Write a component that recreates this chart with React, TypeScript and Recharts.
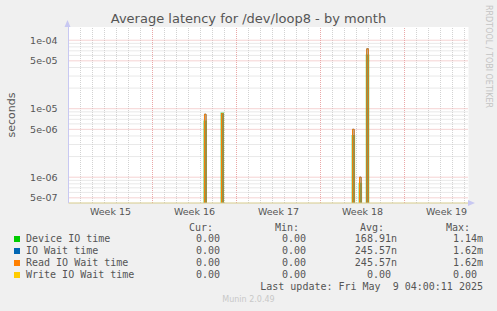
import { LineChart, Line, XAxis, YAxis, CartesianGrid, ReferenceLine } from "recharts";

// time axis is in days from the left edge of the month graph
const weekLabels = ["Week 15", "Week 16", "Week 17", "Week 18", "Week 19"];
const weekStarts = [0, 7, 14, 21, 28];
const days = Array.from({ length: 33 }, (_, i) => i + 1);

// spikes (start day of the sample) and their peak values in seconds
const spikeDays = [11.33, 12.75, 23.67, 24.25, 24.85];
const devicePeaks = [6.5e-6, 8.5e-6, 4.0e-6, 8.0e-7, 6.0e-5];
const ioWaitPeaks = [8.3e-6, 8.5e-6, 5.0e-6, 1.0e-6, 7.5e-5];
const readPeaks = [8.3e-6, 8.5e-6, 5.0e-6, 1.0e-6, 7.5e-5];
const writePeaks = [0, 0, 0, 0, 0];

const legendNames = ["Device IO time", "IO Wait time", "Read IO Wait time", "Write IO Wait time"];
const legendColors = ["#00cc00", "#0066b3", "#ff8000", "#ffcc00"];
const curValues = ["0.00", "0.00", "0.00", "0.00"];
const minValues = ["0.00", "0.00", "0.00", "0.00"];
const avgValues = ["168.91n", "245.57n", "245.57n", "0.00 "];
const maxValues = ["1.14m", "1.62m", "1.62m", "0.00 "];

const yTicks = [5e-7, 1e-6, 5e-6, 1e-5, 5e-5, 1e-4];
const Y_DOMAIN: [number, number] = [4.2e-7, 1.56e-4];
const X_DOMAIN: [number, number] = [0, 33.33];

// zero can't sit on a log axis, park it far below the visible range
const FLOOR = 1e-9;
const SAMPLE = 0.13;
const v = (x: number) => (x > 0 ? x : FLOOR);

const data = spikeDays.flatMap((d, i) => [
  { t: d, device: FLOOR, ioWait: FLOOR, read: FLOOR, write: FLOOR },
  { t: d, device: v(devicePeaks[i]), ioWait: v(ioWaitPeaks[i]), read: v(readPeaks[i]), write: v(writePeaks[i]) },
  { t: d + SAMPLE, device: v(devicePeaks[i]), ioWait: v(ioWaitPeaks[i]), read: v(readPeaks[i]), write: v(writePeaks[i]) },
  { t: d + SAMPLE, device: FLOOR, ioWait: FLOOR, read: FLOOR, write: FLOOR },
]);

const majorY: number[] = [];
const minorY: number[] = [];
for (let e = -7; e <= -4; e++) {
  for (let m = 1; m <= 9; m++) {
    const val = m * Math.pow(10, e);
    if (m === 1 || m === 5) majorY.push(val);
    else minorY.push(val);
  }
}

const fmtExp = (val: number) => {
  const [mant, exp] = val.toExponential(0).split("e");
  const n = Math.abs(Number(exp));
  return `${mant}e${Number(exp) < 0 ? "-" : "+"}${n < 10 ? "0" + n : n}`;
};

const mono = "'DejaVu Sans Mono', monospace";
const textColor = "#555";
const gridGray = "#d2d2d2";
const gridRed = "#eaa6a6";

const cell = (right: number, top: number, text: string) => (
  <div
    style={{ position: "absolute", right: 497 - right, top, whiteSpace: "pre", fontFamily: mono, fontSize: 10, lineHeight: "12px", color: textColor }}
  >
    {text}
  </div>
);

export default function App() {
  return (
    <div
      style={{ position: "fixed", left: 0, top: 0, width: 497, height: 311, background: "#f0f0f0", fontFamily: "'DejaVu Sans', sans-serif", overflow: "hidden" }}
    >
      <LineChart width={497} height={311} data={data} margin={{ top: 27, right: 28.5, bottom: 88, left: 6.5 }}>
        <CartesianGrid horizontal={false} vertical={false} fill="#ffffff" />
        {days.map((d) => (
          <ReferenceLine key={"d" + d} x={d} stroke={d % 7 === 0 ? gridRed : gridGray} strokeDasharray="1 1" />
        ))}
        {minorY.map((y) => (
          <ReferenceLine key={"n" + y} y={y} stroke={gridGray} strokeDasharray="1 1" />
        ))}
        {majorY.map((y) => (
          <ReferenceLine key={"m" + y} y={y} stroke={gridRed} strokeDasharray="1 1" />
        ))}
        <XAxis
          dataKey="t"
          type="number"
          domain={X_DOMAIN}
          allowDataOverflow
          ticks={weekStarts.map((d) => d + 3.5)}
          tickFormatter={(_, i) => weekLabels[i]}
          tickLine={false}
          tickSize={4}
          tickMargin={1}
          height={20}
          axisLine={{ stroke: "#d6cb8c" }}
          tick={{ fill: textColor, fontSize: 9.5 }}
        />
        <YAxis
          scale="log"
          domain={Y_DOMAIN}
          allowDataOverflow
          ticks={yTicks}
          tickFormatter={fmtExp}
          tickLine={false}
          width={62}
          tickMargin={5}
          axisLine={{ stroke: "#c8c8f2" }}
          tick={{ fill: textColor, fontSize: 9.5 }}
        />
        <Line dataKey="device" stroke="#00cc00" strokeOpacity={0.6} strokeWidth={2} dot={false} isAnimationActive={false} />
        <Line dataKey="ioWait" stroke="#0066b3" strokeWidth={1} dot={false} isAnimationActive={false} />
        <Line dataKey="read" stroke="#ff8000" strokeWidth={1} dot={false} isAnimationActive={false} />
        <Line dataKey="write" stroke="#ffcc00" strokeWidth={1} dot={false} isAnimationActive={false} />
      </LineChart>

      <svg style={{ position: "absolute", left: 0, top: 0 }} width={497} height={311}>
        <polygon points="64.5,27 70.5,27 67.5,20" fill="#c8c8f2" />
        <polygon points="468,200 468,206 475,203" fill="#c8c8f2" />
      </svg>

      <div style={{ position: "absolute", left: 0, width: 497, top: 11, textAlign: "center", fontSize: 13, lineHeight: "15px", color: textColor }}>
        Average latency for /dev/loop8 - by month
      </div>
      <div
        style={{ position: "absolute", left: 11, top: 115, transform: "translate(-50%, -50%) rotate(-90deg)", fontSize: 11, color: textColor, whiteSpace: "nowrap" }}
      >
        seconds
      </div>
      <div style={{ position: "absolute", left: 484, top: 5, writingMode: "vertical-rl", fontSize: 8, color: "#c4c4c4", whiteSpace: "nowrap" }}>
        RRDTOOL / TOBI OETIKER
      </div>

      {cell(213, 222, "Cur:")}
      {cell(299, 222, "Min:")}
      {cell(384, 222, "Avg:")}
      {cell(470, 222, "Max:")}
      {legendNames.map((name, i) => {
        const top = 233 + i * 12;
        return (
          <div key={name}>
            <div style={{ position: "absolute", left: 14, top: top + 3, width: 6, height: 6, background: legendColors[i] }} />
            <div style={{ position: "absolute", left: 26, top, whiteSpace: "pre", fontFamily: mono, fontSize: 10, lineHeight: "12px", color: textColor }}>
              {name}
            </div>
            {cell(220, top, curValues[i])}
            {cell(306, top, minValues[i])}
            {cell(397, top, avgValues[i])}
            {cell(483, top, maxValues[i])}
          </div>
        );
      })}
      {cell(483, 281, "Last update: Fri May  9 04:00:11 2025")}
      <div style={{ position: "absolute", left: 0, width: 497, top: 295, textAlign: "center", fontSize: 8, lineHeight: "10px", color: "#c8c8c8" }}>
        Munin 2.0.49
      </div>
    </div>
  );
}
